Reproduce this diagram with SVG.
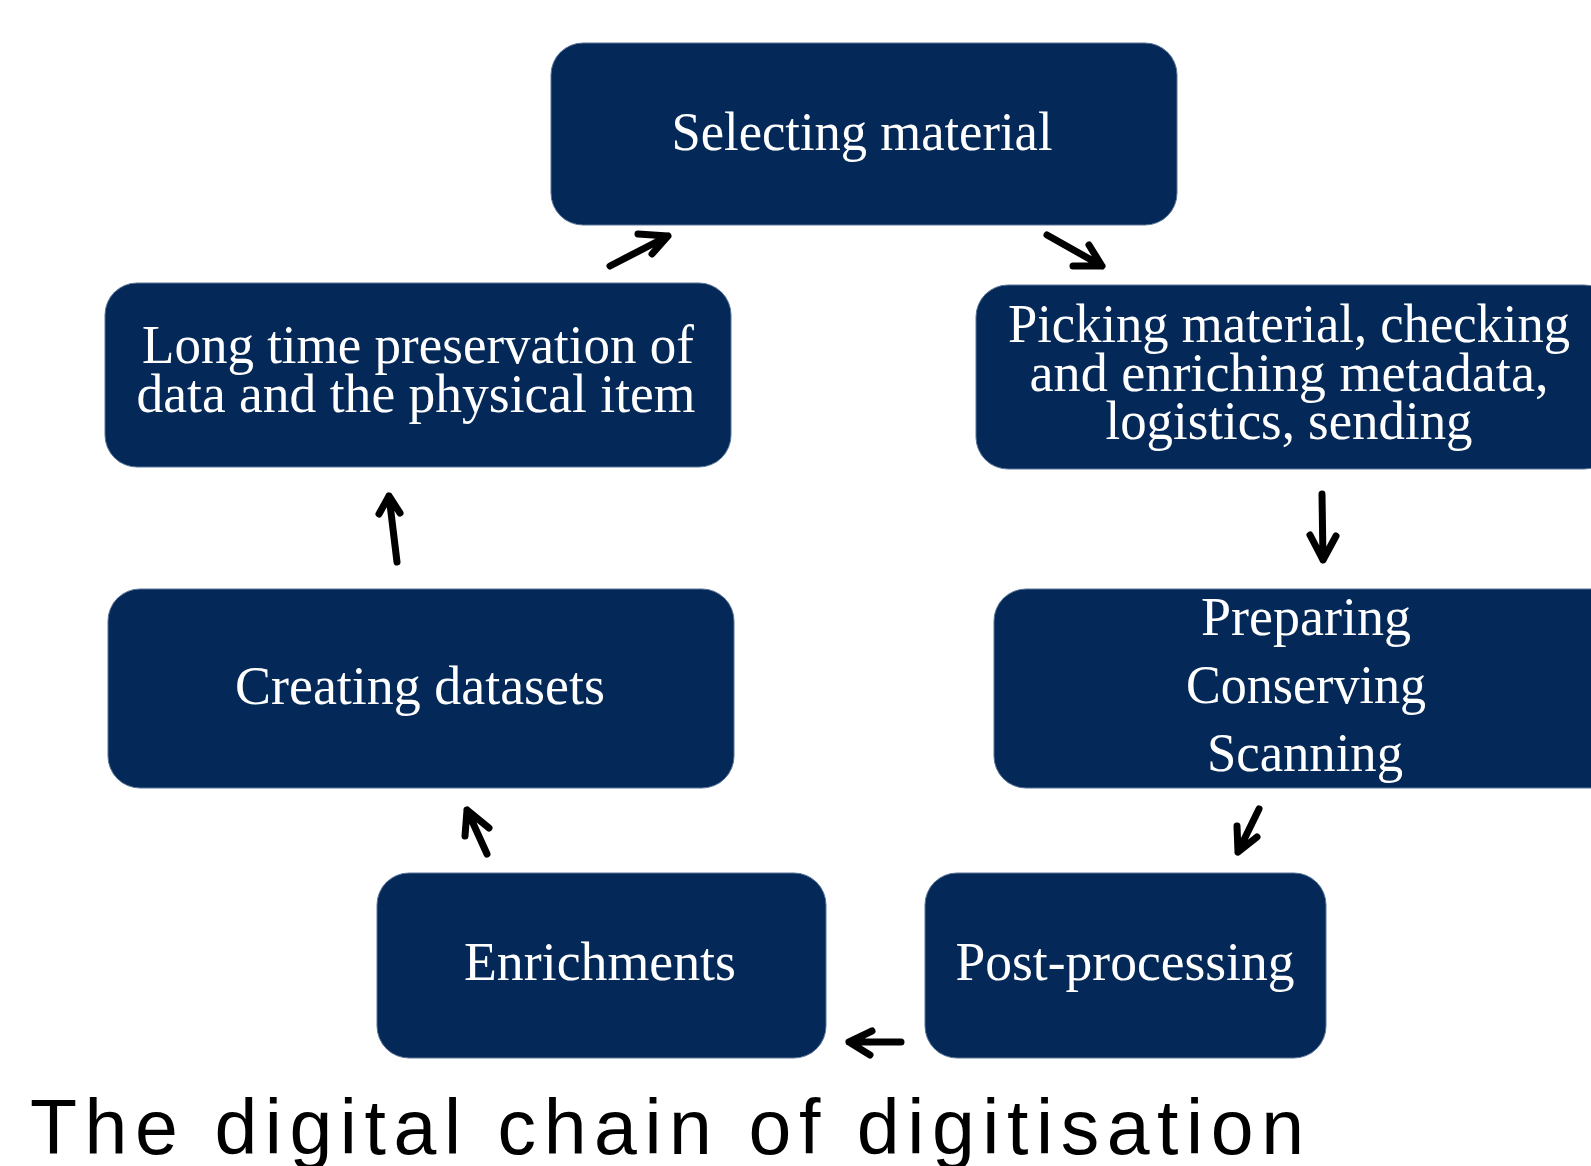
<svg xmlns="http://www.w3.org/2000/svg" width="1591" height="1166" viewBox="0 0 1591 1166">
  <style>
    .box { fill: #042857; stroke: #5a7598; stroke-width: 1; }
    .lbl { font-family: "Liberation Serif", "Times New Roman", serif; font-size: 54px; fill: #ffffff; text-anchor: middle; }
    .arrow { fill: none; stroke: #000000; stroke-width: 7; stroke-linecap: round; stroke-linejoin: round; }
    .title { font-family: "Liberation Sans", Arial, sans-serif; font-size: 77px; fill: #000000; }
  </style>
  <rect width="1591" height="1166" fill="#ffffff"/>

  <g id="node-selecting">
    <rect class="box" x="551" y="43" width="626" height="182" rx="32"/>
    <text class="lbl" x="862" y="150" textLength="381" lengthAdjust="spacingAndGlyphs">Selecting material</text>
  </g>

  <g id="node-picking">
    <rect class="box" x="976" y="285" width="640" height="184" rx="32"/>
    <text class="lbl" x="1289" y="342" textLength="562" lengthAdjust="spacingAndGlyphs">Picking material, checking</text>
    <text class="lbl" x="1289" y="391" textLength="519" lengthAdjust="spacingAndGlyphs">and enriching metadata,</text>
    <text class="lbl" x="1289" y="439" textLength="367" lengthAdjust="spacingAndGlyphs">logistics, sending</text>
  </g>

  <g id="node-preparing">
    <rect class="box" x="994" y="589" width="640" height="199" rx="32"/>
    <text class="lbl" x="1306" y="635" textLength="210" lengthAdjust="spacingAndGlyphs">Preparing</text>
    <text class="lbl" x="1306" y="703" textLength="240" lengthAdjust="spacingAndGlyphs">Conserving</text>
    <text class="lbl" x="1305" y="771" textLength="196" lengthAdjust="spacingAndGlyphs">Scanning</text>
  </g>

  <g id="node-postprocessing">
    <rect class="box" x="925" y="873" width="401" height="185" rx="32"/>
    <text class="lbl" x="1125" y="980" textLength="339" lengthAdjust="spacingAndGlyphs">Post-processing</text>
  </g>

  <g id="node-enrichments">
    <rect class="box" x="377" y="873" width="449" height="185" rx="32"/>
    <text class="lbl" x="600" y="980" textLength="272" lengthAdjust="spacingAndGlyphs">Enrichments</text>
  </g>

  <g id="node-datasets">
    <rect class="box" x="108" y="589" width="626" height="199" rx="32"/>
    <text class="lbl" x="420" y="704" textLength="370" lengthAdjust="spacingAndGlyphs">Creating datasets</text>
  </g>

  <g id="node-preservation">
    <rect class="box" x="105" y="283" width="626" height="184" rx="32"/>
    <text class="lbl" x="418" y="363" textLength="552" lengthAdjust="spacingAndGlyphs">Long time preservation of</text>
    <text class="lbl" x="416" y="412" textLength="559" lengthAdjust="spacingAndGlyphs">data and the physical item</text>
  </g>

  <g id="connectors">
    <!-- preservation to selecting -->
    <path class="arrow" d="M610 266 L668 236 M638 234 L668 236 L652 254"/>
    <!-- selecting to picking -->
    <path class="arrow" d="M1047 235 L1102 266 M1089 245 L1102 266 L1073 266"/>
    <!-- picking to preparing -->
    <path class="arrow" d="M1322 494 L1323 560 M1310 535 L1323 560 L1336 536"/>
    <!-- preparing to post-processing -->
    <path class="arrow" d="M1259 809 L1238 852 M1237 826 L1238 852 L1257 837"/>
    <!-- post-processing to enrichments -->
    <path class="arrow" d="M901 1042 L849 1042 M872 1031 L849 1042 L870 1055"/>
    <!-- enrichments to datasets -->
    <path class="arrow" d="M487 854 L467 810 M465 836 L467 810 L489 828"/>
    <!-- datasets to preservation -->
    <path class="arrow" d="M397 562 L389 496 M379 514 L389 496 L400 513"/>
  </g>

  <text class="title" x="30" y="1154" textLength="1274" lengthAdjust="spacing">The digital chain of digitisation</text>
</svg>
